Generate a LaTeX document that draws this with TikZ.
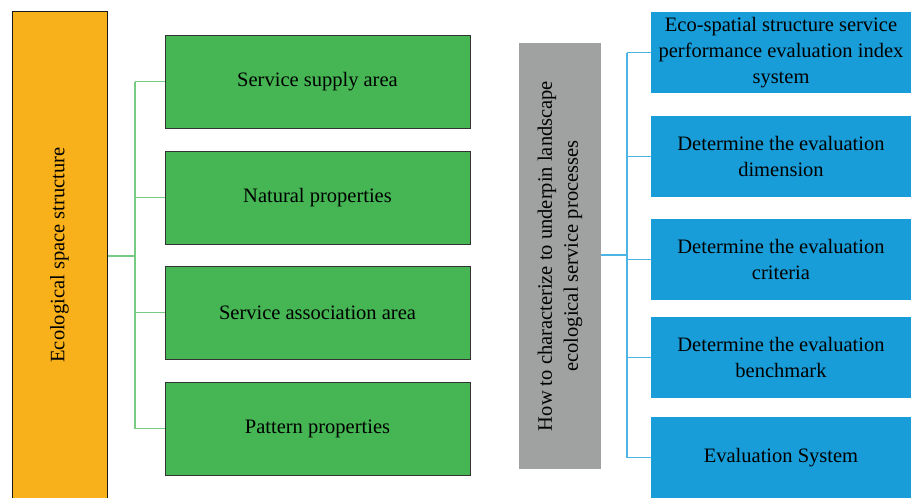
\documentclass[tikz,border=0pt]{standalone}
\usepackage{fontspec}
\setmainfont{Liberation Serif}
\definecolor{orangeC}{HTML}{F9B11B}
\definecolor{greenC}{HTML}{45B653}
\definecolor{grayC}{HTML}{A0A2A2}
\definecolor{blueC}{HTML}{189DD8}
\definecolor{glineC}{HTML}{78CB82}
\definecolor{blineC}{HTML}{4DB4E6}
\begin{document}
\begin{tikzpicture}[x=1pt,y=-1pt,
  txt/.style={font=\fontsize{20.5}{26}\selectfont, text=black, align=center},
  gbox/.style={txt, draw=black!80, line width=1pt, fill=greenC, minimum width=305pt, minimum height=93pt, inner sep=0pt},
  bbox/.style={txt, fill=blueC, minimum width=260pt, minimum height=81pt, inner sep=0pt},
  gline/.style={draw=glineC, line width=1.2pt},
  bline/.style={draw=blineC, line width=1.2pt}]
\useasboundingbox (0,0) rectangle (911,498);
% left orange
\node[draw=black!90, line width=1pt, fill=orangeC, minimum width=95pt, minimum height=492pt, inner sep=0pt] (eco) at (59.5,257) {};
\node[txt, rotate=90] (ecot) at (59.5,255) {Ecological space structure};
% green boxes
\node[gbox] (g1) at (317.5,81.5) {Service supply area};
\node[gbox] (g2) at (317.5,197.5) {Natural properties};
\node[gbox] (g3) at (317.5,312.5) {Service association area};
\node[gbox] (g4) at (317.5,428.5) {Pattern properties};
\coordinate (jl) at (135,256);
\coordinate (jlt) at (135,81.5);
\coordinate (jlb) at (135,428.5);
\draw[gline] (eco.east |- jl) -- (jl);
\draw[gline] (jlt) -- (jlb);
\draw[gline] (jlt) -- (g1.west);
\draw[gline] (jlt |- g2.west) -- (g2.west);
\draw[gline] (jlt |- g3.west) -- (g3.west);
\draw[gline] (jlb) -- (g4.west);
% gray box
\node[fill=grayC, minimum width=82pt, minimum height=426pt, inner sep=0pt] (gr) at (560,256) {};
\node[txt, rotate=90] (grt) at (560,256) {How to characterize to underpin landscape\\ecological service processes};
% blue boxes
\node[bbox] (b1) at (781,52.5) {Eco-spatial structure service\\performance evaluation index\\system};
\node[bbox] (b2) at (781,156.5) {Determine the evaluation\\dimension};
\node[bbox] (b3) at (781,259.5) {Determine the evaluation\\criteria};
\node[bbox] (b4) at (781,357.5) {Determine the evaluation\\benchmark};
\node[bbox] (b5) at (781,457.5) {Evaluation System};
\coordinate (jr) at (627,255);
\coordinate (jrt) at (627,52.5);
\coordinate (jrb) at (627,457.5);
\draw[bline] (gr.east |- jr) -- (jr);
\draw[bline] (jrt) -- (jrb);
\draw[bline] (jrt) -- (b1.west);
\draw[bline] (jrt |- b2.west) -- (b2.west);
\draw[bline] (jrt |- b3.west) -- (b3.west);
\draw[bline] (jrt |- b4.west) -- (b4.west);
\draw[bline] (jrb) -- (b5.west);
\end{tikzpicture}
\end{document}
